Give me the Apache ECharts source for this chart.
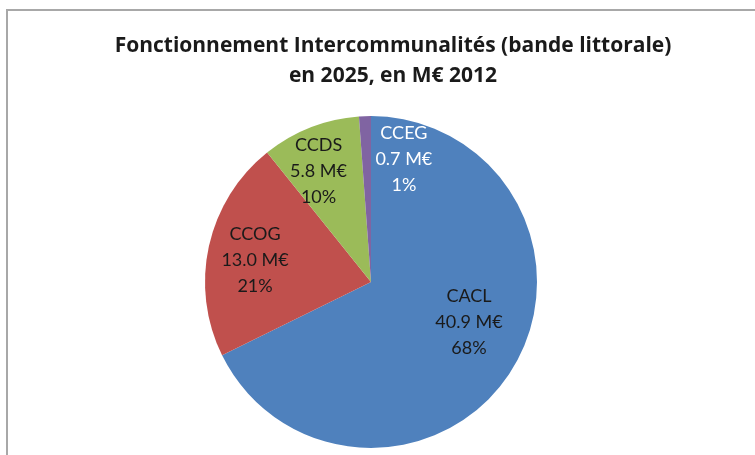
<!DOCTYPE html>
<html>
<head>
<meta charset="utf-8">
<script src="https://cdn.jsdelivr.net/npm/echarts@6/dist/echarts.min.js"></script>
<style>
html,body{margin:0;padding:0;background:#fff;}
#chart{width:755px;height:455px;}
</style>
</head>
<body>
<div id="chart"></div>
<script>
var categories = ['CACL', 'CCOG', 'CCDS', 'CCEG'];
var values = [40.9, 13.0, 5.8, 0.7];
var colors = ['#4F81BD', '#C0504D', '#9BBB59', '#8064A2'];
var labelColors = ['#1a1a1a', '#1a1a1a', '#1a1a1a', '#ffffff'];
var labelShift = [[25, -5], [-32, -3], [-21, -31], [36, -37]];

var chart = echarts.init(document.getElementById('chart'), null, {renderer: 'canvas'});
var data = categories.map(function (c, i) {
  return {
    name: c,
    value: values[i],
    itemStyle: {color: colors[i]},
    label: {color: labelColors[i]}
  };
});
chart.setOption({
  animation: false,
  backgroundColor: '#ffffff',
  graphic: [{
    type: 'rect',
    shape: {x: 7, y: 10, width: 800, height: 500},
    style: {fill: 'none', stroke: '#A8A8A8', lineWidth: 2},
    silent: true
  }],
  title: {
    text: 'Fonctionnement Intercommunalités (bande littorale)\nen 2025, en M€ 2012',
    left: 388,
    top: 26,
    textAlign: 'center',
    textStyle: {
      fontFamily: 'Open Sans',
      fontWeight: 'bold',
      fontSize: 21,
      lineHeight: 30,
      color: '#1a1a1a'
    }
  },
  series: [{
    type: 'pie',
    center: [371, 282],
    radius: [0, 166],
    startAngle: 90,
    clockwise: true,
    percentPrecision: 0,
    data: data,
    itemStyle: {borderWidth: 0},
    emphasis: {disabled: true},
    label: {
      show: true,
      position: 'inside',
      fontFamily: 'Lato',
      fontSize: 18,
      lineHeight: 26,
      formatter: function (p) {
        return p.name + '\n' + p.value.toFixed(1) + ' M€\n' + p.percent + '%';
      }
    },
    labelLine: {show: false},
    labelLayout: function (p) {
      var s = labelShift[p.dataIndex];
      return {dx: s[0], dy: s[1]};
    }
  }]
});
</script>
</body>
</html>
